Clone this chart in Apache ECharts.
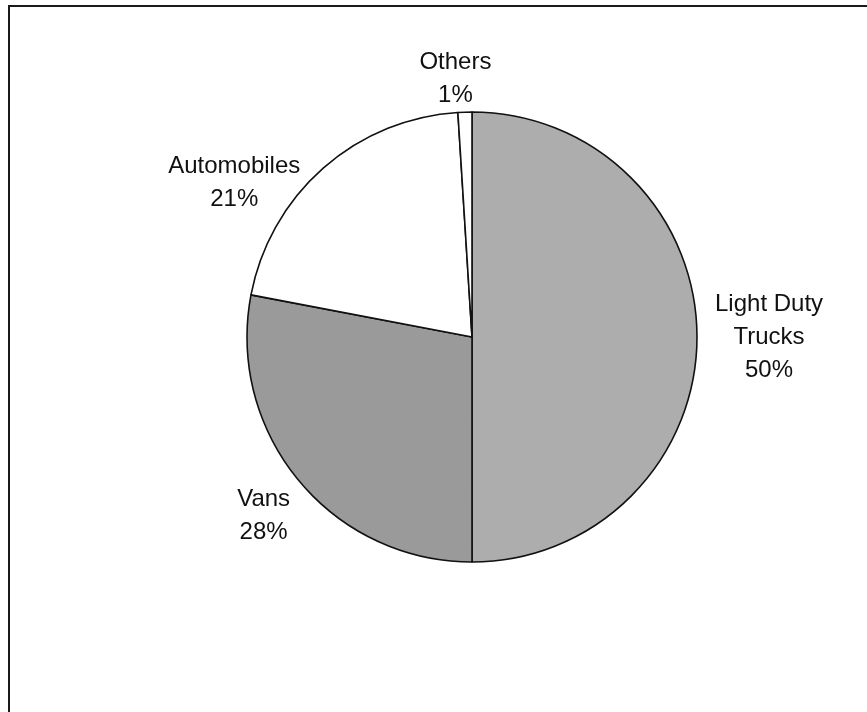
<!DOCTYPE html>
<html>
<head>
<meta charset="utf-8">
<script src="https://cdn.jsdelivr.net/npm/echarts@6/dist/echarts.min.js"></script>
<style>
html,body{margin:0;padding:0;background:#fff;}
#chart{width:867px;height:712px;}
</style>
</head>
<body>
<div id="chart"></div>
<script>
// Data
const categories = ['Light Duty\nTrucks', 'Vans', 'Automobiles', 'Others'];
const shares = [50, 28, 21, 1];

// Styles (not data)
const sliceColors = ['#adadad', '#9a9a9a', '#ffffff', '#ffffff'];
const labelNudge = [[-2, 0], [8, 26], [-8, 26], [32, -18]];

const chart = echarts.init(document.getElementById('chart'), null, {renderer: 'canvas'});

const option = {
  backgroundColor: '#ffffff',
  animation: false,
  graphic: [{
    type: 'rect',
    shape: {x: 9, y: 6, width: 1000, height: 1000},
    style: {fill: 'none', stroke: '#1a1a1a', lineWidth: 2},
    silent: true,
    z: 0
  }],
  series: [{
    type: 'pie',
    center: [472, 337],
    radius: 225,
    startAngle: 90,
    clockwise: true,
    avoidLabelOverlap: false,
    itemStyle: {borderColor: '#111', borderWidth: 1.6},
    label: {
      show: true,
      position: 'outside',
      distanceToLabelLine: 5,
      fontFamily: '"Liberation Sans", Arial, sans-serif',
      fontSize: 24,
      color: '#111',
      lineHeight: 33,
      formatter: function (p) {
        const lines = p.name.split('\n').concat([p.percent.toFixed(0) + '%']);
        return lines.map(function (l) { return '{c|' + l + '}'; }).join('\n');
      },
      rich: {
        c: {
          align: 'center',
          fontFamily: '"Liberation Sans", Arial, sans-serif',
          fontSize: 24,
          color: '#111',
          lineHeight: 33
        }
      }
    },
    labelLine: {show: false, length: 15, length2: 0},
    labelLayout: function (params) {
      const n = labelNudge[params.dataIndex];
      return {dx: n[0], dy: n[1]};
    },
    emphasis: {disabled: true},
    data: categories.map(function (name, i) {
      return {name: name, value: shares[i], itemStyle: {color: sliceColors[i]}};
    })
  }]
};
chart.setOption(option);
</script>
</body>
</html>
